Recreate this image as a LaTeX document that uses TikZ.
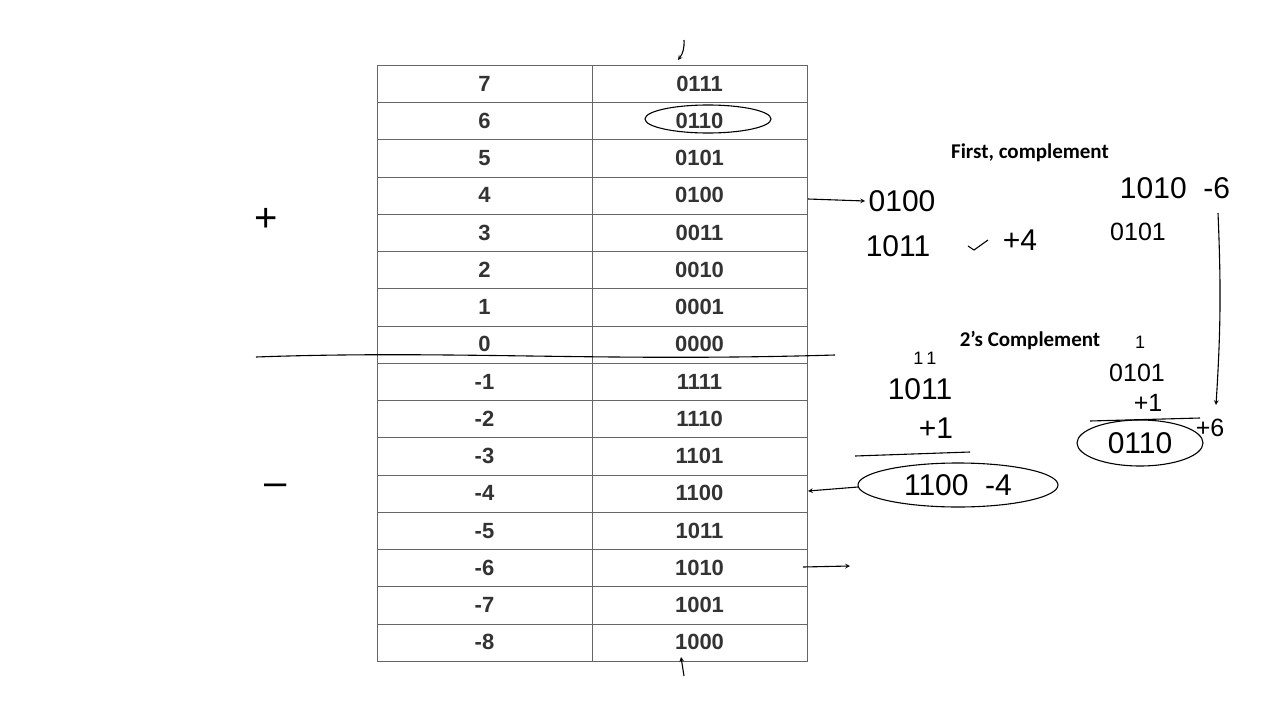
\documentclass[tikz,border=0pt]{standalone}
\usepackage{fontspec}
\setmainfont{Liberation Sans}
\newfontfamily\carfont{Carlito}
\begin{document}
\begin{tikzpicture}[x=1pt,y=-1pt,
 cell/.style={font=\bfseries\fontsize{22}{22}\selectfont,text=black!80},
 hw/.style={font=\fontsize{30}{30}\selectfont,text=black},
 hws/.style={font=\fontsize{25}{25}\selectfont,text=black},
 lbl/.style={font=\carfont\bfseries\fontsize{21}{21}\selectfont},
 pen/.style={line width=1.1pt,black},
 arr/.style={pen,->,>=stealth}]
\useasboundingbox (0,0) rectangle (1280,720);
\foreach \i/\d/\b in {0/7/0111,1/6/0110,2/5/0101,3/4/0100,4/3/0011,5/2/0010,6/1/0001,7/0/0000,8/-1/1111,9/-2/1110,10/-3/1101,11/-4/1100,12/-5/1011,13/-6/1010,14/-7/1001,15/-8/1000}{
 \draw[black!60] (377,65+37.25*\i) rectangle (592,65+37.25*\i+37.25);
 \draw[black!60] (592,65+37.25*\i) rectangle (807,65+37.25*\i+37.25);
 \node[cell] (d\i) at (484.5,83.6+37.25*\i) {\d};
 \node[cell] (b\i) at (699.5,83.6+37.25*\i) {\b};
}
\coordinate (t0) at (684,40); \coordinate (t1) at (678,60);
\draw[arr] (t0) to[bend left=20] (t1);
\coordinate (u0) at (684,676); \coordinate (u1) at (681,657);
\draw[arr] (u0) -- (u1);
\draw[pen] (708,119) ellipse (63 and 14);
\node[hw,font=\fontsize{40}{40}\selectfont] (plus) at (266,220) {+};
\node[hw,font=\fontsize{40}{40}\selectfont] (minus) at (276,490) {--};
\draw[pen] (256,357) .. controls (450,350) and (600,362) .. (835,355);
\node[hw] (h1) at (902,201) {0100};
\coordinate (a0) at (808,199);
\draw[arr] (a0) -- (h1.west);
\node[hw] (h2) at (898,246) {1011};
\draw[pen] (968,246) -- (974,250) -- (988,240);
\node[hw] (h3) at (1020,240) {+4};
\node[lbl] (fc) at (1030,153) {First, complement};
\node[hw] (h4) at (1175,188) {1010\ \ -6};
\node[hws] (h5) at (1138,232) {0101};
\coordinate (v0) at (1218,213); \coordinate (v1) at (1216,405);
\draw[arr] (v0) to[bend left=3] (v1);
\node[lbl] (tc) at (1030,341) {2’s Complement};
\node[font=\fontsize{18}{18}\selectfont] (c1) at (1140,342) {1};
\node[hws] (h6) at (1137,373) {0101};
\node[hws] (h7) at (1148,403) {+1};
\draw[pen] (1090,421) -- (1200,418);
\node[hw] (h8) at (1140,443) {0110};
\draw[pen] (1140,443) ellipse (63 and 23);
\node[hws] (h9) at (1210,428) {+6};
\node[font=\fontsize{18}{18}\selectfont] (c2) at (925,358) {1\,1};
\node[hw] (h10) at (920,389) {1011};
\node[hw] (h11) at (936,428) {+1};
\draw[pen] (855,456) -- (970,452);
\node[hw] (h12) at (958,485) {1100\ \ -4};
\draw[pen] (958,485) ellipse (100 and 22);
\coordinate (e0) at (858,487); \coordinate (e1) at (808,491);
\draw[arr] (e0) -- (e1);
\coordinate (f0) at (803,567); \coordinate (f1) at (850,566);
\draw[arr] (f0) -- (f1);
\end{tikzpicture}
\end{document}
